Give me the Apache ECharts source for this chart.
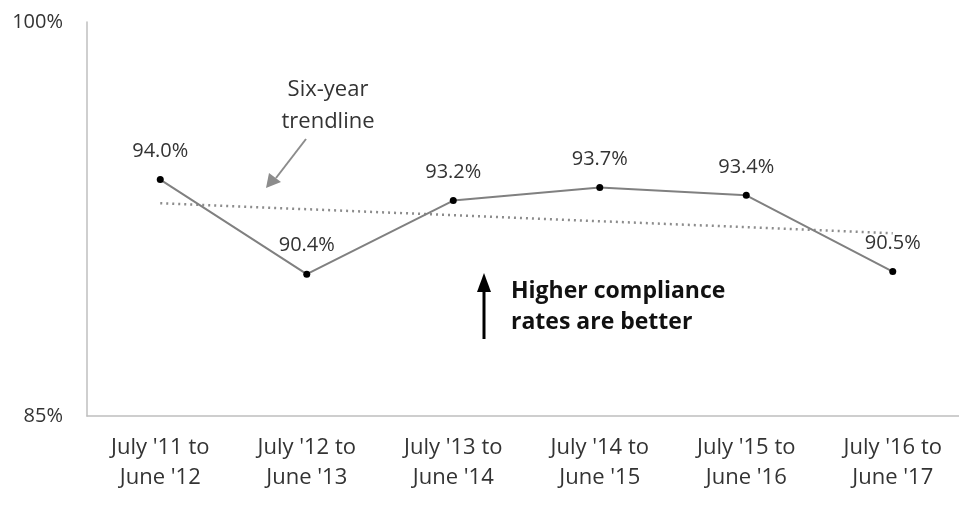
<!DOCTYPE html>
<html>
<head>
<meta charset="utf-8">
<script src="https://cdn.jsdelivr.net/npm/echarts@6/dist/echarts.min.js"></script>
<style>
html,body{margin:0;padding:0;background:#fff;overflow:hidden;}
#chart{width:966px;height:518px;}
</style>
</head>
<body>
<div id="chart"></div>
<script>
var categories = ["July '11 to\nJune '12", "July '12 to\nJune '13", "July '13 to\nJune '14", "July '14 to\nJune '15", "July '15 to\nJune '16", "July '16 to\nJune '17"];
var complianceRates = [94.0, 90.4, 93.2, 93.7, 93.4, 90.5];
var trendlineValues = [93.1, null, null, null, null, 91.96];
var yTickLabels = [85, 100];

var FONT = "'Open Sans', 'Noto Sans', sans-serif";
var chart = echarts.init(document.getElementById('chart'), null, {renderer: 'canvas'});

var option = {
  animation: false,
  backgroundColor: '#ffffff',
  grid: {left: 87, right: 0, top: 22, height: 394, containLabel: false},
  xAxis: {
    type: 'category',
    data: categories,
    boundaryGap: true,
    axisLine: {lineStyle: {color: '#bfbfbf', width: 1.5}},
    axisTick: {show: false},
    axisLabel: {color: '#333', fontFamily: FONT, fontSize: 22, lineHeight: 30, margin: 17}
  },
  yAxis: {
    type: 'value',
    min: 85, max: 100, interval: 5,
    splitLine: {show: false},
    axisLine: {show: true, lineStyle: {color: '#bfbfbf', width: 1.5}},
    axisTick: {show: false},
    axisLabel: {
      color: '#333', fontFamily: FONT, fontSize: 20, margin: 24,
      formatter: function (v) { return yTickLabels.indexOf(v) >= 0 ? v + '%' : ''; }
    }
  },
  series: [
    {
      name: 'Trendline',
      type: 'line',
      data: trendlineValues,
      connectNulls: true,
      symbol: 'none',
      lineStyle: {color: '#8c8c8c', width: 2.5, type: [2, 4]},
      z: 1
    },
    {
      name: 'Compliance rate',
      type: 'line',
      data: complianceRates,
      symbol: 'circle',
      symbolSize: 7,
      itemStyle: {color: '#000'},
      lineStyle: {color: '#808080', width: 2},
      label: {
        show: true, position: 'top', distance: 15,
        color: '#333', fontFamily: FONT, fontSize: 20,
        formatter: function (p) { return p.value.toFixed(1) + '%'; }
      },
      z: 3
    }
  ],
  graphic: [
    {type: 'text', x: 328, y: 74, style: {text: 'Six-year\ntrendline', fill: '#333', font: '22px ' + FONT, align: 'center', lineHeight: 32}},
    {type: 'line', shape: {x1: 306, y1: 139, x2: 276, y2: 178}, style: {stroke: '#8c8c8c', lineWidth: 2}},
    {type: 'polygon', shape: {points: [[266, 188], [269, 173], [281, 182]]}, style: {fill: '#8c8c8c'}},
    {type: 'line', shape: {x1: 484, y1: 339, x2: 484, y2: 288}, style: {stroke: '#000', lineWidth: 3}},
    {type: 'polygon', shape: {points: [[484, 273], [477, 292], [491, 292]]}, style: {fill: '#000'}},
    {type: 'text', x: 511, y: 276, style: {text: 'Higher compliance\nrates are better', fill: '#111', font: 'bold 23px ' + FONT, lineHeight: 31}}
  ]
};
chart.setOption(option);
</script>
</body>
</html>
